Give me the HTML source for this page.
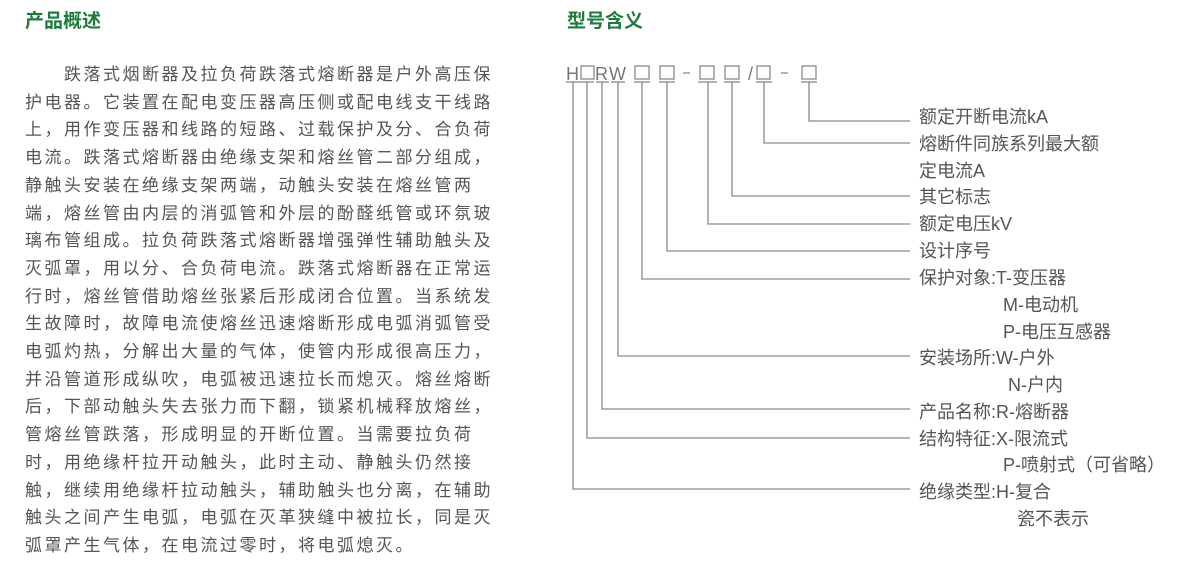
<!DOCTYPE html>
<html><head><meta charset="utf-8"><style>
html,body{margin:0;padding:0;background:#fff;}
body{width:1200px;height:568px;position:relative;overflow:hidden;font-family:"Liberation Sans","Noto Sans CJK SC",sans-serif;}
.t{position:absolute;color:#1e7b3c;font-weight:bold;font-size:19px;line-height:24px;}
.p{position:absolute;left:25px;top:61px;width:480px;color:#555;font-size:17px;line-height:27.7px;letter-spacing:2.5px;white-space:nowrap;}
svg{position:absolute;left:0;top:0;}
svg text{font-family:"Liberation Sans","Noto Sans CJK SC",sans-serif;fill:#555;font-size:18px;}
</style></head><body>
<div class="t" style="left:25px;top:10px;">产品概述</div>
<div class="t" style="left:567px;top:10px;">型号含义</div>
<div class="p">
<div>　　跌落式烟断器及拉负荷跌落式熔断器是户外高压保</div>
<div>护电器。它装置在配电变压器高压侧或配电线支干线路</div>
<div>上，用作变压器和线路的短路、过载保护及分、合负荷</div>
<div>电流。跌落式熔断器由绝缘支架和熔丝管二部分组成，</div>
<div>静触头安装在绝缘支架两端，动触头安装在熔丝管两</div>
<div>端，熔丝管由内层的消弧管和外层的酚醛纸管或环氛玻</div>
<div>璃布管组成。拉负荷跌落式熔断器增强弹性辅助触头及</div>
<div>灭弧罩，用以分、合负荷电流。跌落式熔断器在正常运</div>
<div>行时，熔丝管借助熔丝张紧后形成闭合位置。当系统发</div>
<div>生故障时，故障电流使熔丝迅速熔断形成电弧消弧管受</div>
<div>电弧灼热，分解出大量的气体，使管内形成很高压力，</div>
<div>并沿管道形成纵吹，电弧被迅速拉长而熄灭。熔丝熔断</div>
<div>后，下部动触头失去张力而下翻，锁紧机械释放熔丝，</div>
<div>管熔丝管跌落，形成明显的开断位置。当需要拉负荷</div>
<div>时，用绝缘杆拉开动触头，此时主动、静触头仍然接</div>
<div>触，继续用绝缘杆拉动触头，辅助触头也分离，在辅助</div>
<div>触头之间产生电弧，电弧在灭革狭缝中被拉长，同是灭</div>
<div>弧罩产生气体，在电流过零时，将电弧熄灭。</div>
</div>
<svg width="1200" height="568" viewBox="0 0 1200 568">
<g fill="none" stroke="#8a8a8a" stroke-width="1.3">
<rect x="581" y="66" width="13" height="13"/>
<rect x="635" y="66" width="14" height="13"/>
<rect x="660" y="66" width="14" height="13"/>
<rect x="700" y="66" width="14" height="13"/>
<rect x="725" y="66" width="14" height="13"/>
<rect x="757" y="66" width="13" height="13"/>
<rect x="802" y="66" width="14" height="13"/>
<line x1="683" y1="73" x2="690" y2="73"/>
<line x1="781" y1="73" x2="788" y2="73"/>
</g>
<text x="566" y="80" style="fill:#777">H</text>
<text x="595" y="80" style="fill:#777">R</text>
<text x="609" y="80" style="fill:#777">W</text>
<text x="748" y="80" style="fill:#777">/</text>
<g stroke="#8a8a8a" stroke-width="1.3" fill="none">
<line x1="566" y1="82" x2="580" y2="82"/><line x1="580" y1="82" x2="594" y2="82"/>
<line x1="596" y1="82" x2="609" y2="82"/><line x1="611" y1="82" x2="625" y2="82"/>
<line x1="634" y1="82" x2="650" y2="82"/><line x1="659" y1="82" x2="675" y2="82"/>
<line x1="698" y1="82" x2="717" y2="82"/><line x1="724" y1="82" x2="740" y2="82"/>
<line x1="756" y1="82" x2="772" y2="82"/><line x1="801" y1="82" x2="817" y2="82"/>
<polyline points="809,82 809,121 910,121"/>
<polyline points="764,82 764,143 910,143"/>
<polyline points="732,82 732,196 910,196"/>
<polyline points="708,82 708,224 910,224"/>
<polyline points="667,82 667,251 910,251"/>
<polyline points="642,82 642,279 910,279"/>
<polyline points="618,82 618,356 910,356"/>
<polyline points="602,82 602,409 910,409"/>
<polyline points="587,82 587,438 910,438"/>
<polyline points="573,82 573,489 910,489"/>
</g>
<text x="919" y="123">额定开断电流kA</text>
<text x="919" y="150">熔断件同族系列最大额</text>
<text x="919" y="177">定电流A</text>
<text x="919" y="203">其它标志</text>
<text x="919" y="230">额定电压kV</text>
<text x="919" y="257">设计序号</text>
<text x="919" y="284">保护对象:T-变压器</text>
<text x="1003" y="311">M-电动机</text>
<text x="1003" y="338">P-电压互感器</text>
<text x="919" y="364">安装场所:W-户外</text>
<text x="1008" y="391">N-户内</text>
<text x="919" y="418">产品名称:R-熔断器</text>
<text x="919" y="445">结构特征:X-限流式</text>
<text x="1003" y="471">P-喷射式（可省略）</text>
<text x="919" y="498">绝缘类型:H-复合</text>
<text x="1017" y="525">瓷不表示</text>
</svg>
</body></html>
